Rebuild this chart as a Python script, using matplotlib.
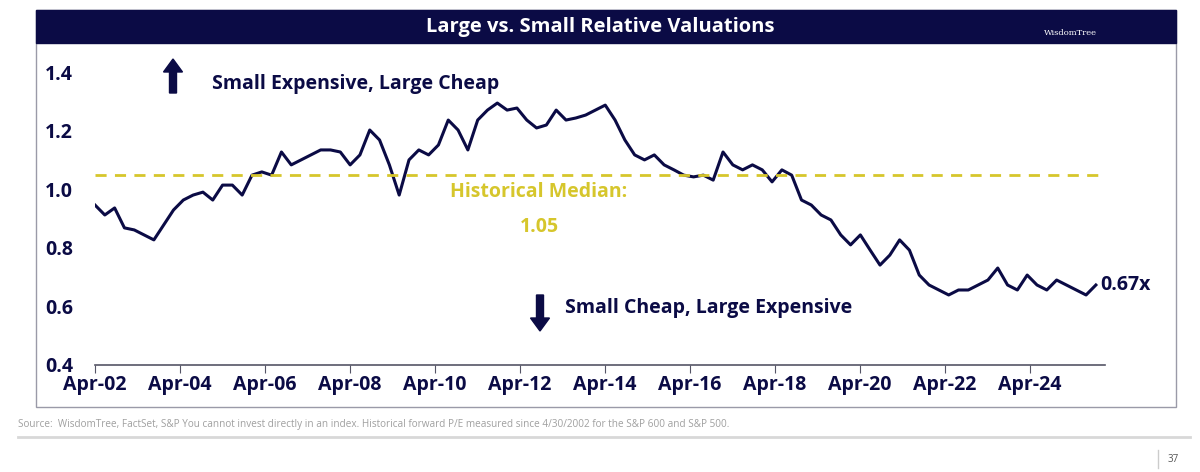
import numpy as np
import matplotlib.pyplot as plt
from matplotlib.patches import Rectangle, FancyArrow

NAVY = "#0b0b45"
GOLD = "#d6c62c"

ratio = [0.946, 0.912, 0.936, 0.868, 0.861, 0.844, 0.827, 0.878, 0.929, 0.963,
         0.980, 0.990, 0.963, 1.014, 1.014, 0.980, 1.048, 1.059, 1.048, 1.127,
         1.083, 1.100, 1.117, 1.134, 1.134, 1.127, 1.083, 1.117, 1.202, 1.168,
         1.083, 0.980, 1.100, 1.134, 1.117, 1.151, 1.236, 1.202, 1.134, 1.236,
         1.270, 1.294, 1.270, 1.277, 1.236, 1.209, 1.219, 1.270, 1.236, 1.243,
         1.253, 1.270, 1.287, 1.236, 1.168, 1.117, 1.100, 1.117, 1.083, 1.066,
         1.048, 1.042, 1.048, 1.031, 1.127, 1.083, 1.066, 1.083, 1.066, 1.025,
         1.066, 1.048, 0.963, 0.946, 0.912, 0.895, 0.844, 0.810, 0.844, 0.792,
         0.741, 0.775, 0.827, 0.792, 0.707, 0.673, 0.656, 0.639, 0.656, 0.656,
         0.673, 0.690, 0.731, 0.673, 0.656, 0.707, 0.673, 0.656, 0.690, 0.673,
         0.656, 0.639, 0.673]
start_year, end_year = 2002.25, 2025.8
years = np.linspace(start_year, end_year, len(ratio))
median = 1.05
tick_years = [2002.25 + 2 * i for i in range(12)]
tick_labels = ["Apr-02", "Apr-04", "Apr-06", "Apr-08", "Apr-10", "Apr-12",
               "Apr-14", "Apr-16", "Apr-18", "Apr-20", "Apr-22", "Apr-24"]
yticks = [0.4, 0.6, 0.8, 1.0, 1.2, 1.4]

plt.rcParams["font.family"] = "Open Sans"
W, H = 1200, 472
fig = plt.figure(figsize=(12, 4.72), dpi=100)

# page decorations in pixel coordinates
page = fig.add_axes([0, 0, 1, 1])
page.set_xlim(0, W)
page.set_ylim(H, 0)
page.axis("off")
page.add_patch(Rectangle((36, 10), 1140, 397, fill=False, ec="#9a9aa8", lw=1))
page.add_patch(Rectangle((36, 10), 1140, 33, color=NAVY))
page.text(600, 27, "Large vs. Small Relative Valuations", color="white",
          fontsize=14.5, fontweight="bold", ha="center", va="center")
page.text(1070, 33, "WisdomTree", color="white", fontsize=6, ha="center",
          va="center", family="DejaVu Serif")
page.text(18, 425, "Source:  WisdomTree, FactSet, S&P You cannot invest directly in an index. "
          "Historical forward P/E measured since 4/30/2002 for the S&P 600 and S&P 500.",
          color="#a0a0a0", fontsize=7.2, va="center")
page.plot([18, 1190], [437, 437], color="#d8d8d8", lw=2)
page.plot([1158, 1158], [450, 468], color="#cccccc", lw=1)
page.text(1168, 459, "37", color="#555555", fontsize=7, va="center")
# direction arrows
page.add_patch(FancyArrow(173, 93, 0, -34, width=7, head_width=19, head_length=13,
                          length_includes_head=True, color=NAVY))
page.add_patch(FancyArrow(540, 295, 0, 36, width=7, head_width=19, head_length=13,
                          length_includes_head=True, color=NAVY))

ax = fig.add_axes([95 / W, (H - 365) / H, 1010 / W, 293 / H])
ax.patch.set_alpha(0)
ax.set_xlim(start_year, start_year + 1010 / 42.5)
ax.set_ylim(0.4, 1.4)
ax.plot(years, ratio, color=NAVY, lw=2.2)
ax.axhline(median, color=GOLD, lw=2, ls=(0, (4, 3)))
for s in ["top", "right", "left"]:
    ax.spines[s].set_visible(False)
ax.spines["bottom"].set_color("#555566")
ax.spines["bottom"].set_linewidth(1.2)
ax.set_xticks(tick_years)
ax.set_xticklabels(tick_labels, fontsize=14, fontweight="bold", color=NAVY)
ax.tick_params(axis="x", length=6, color="#555566", pad=1)
ax.set_yticks(yticks)
ax.set_yticklabels([f"{v:.1f}" for v in yticks], fontsize=14, fontweight="bold", color=NAVY)
ax.tick_params(axis="y", length=0, pad=16)

ax.text(2012.7, 0.955, "Historical Median:", color=GOLD, fontsize=14,
        fontweight="bold", ha="center", va="bottom")
ax.text(2012.7, 0.87, "1.05", color=GOLD, fontsize=14, fontweight="bold",
        ha="center", va="center")
ax.text(2005.0, 1.36, "Small Expensive, Large Cheap", color=NAVY, fontsize=14,
        fontweight="bold", va="center")
ax.text(2013.3, 0.595, "Small Cheap, Large Expensive", color=NAVY, fontsize=14,
        fontweight="bold", va="center")
ax.text(years[-1] + 0.1, ratio[-1], "0.67x", color=NAVY, fontsize=14,
        fontweight="bold", va="center", clip_on=False)

fig.savefig("out.png", dpi=100)
